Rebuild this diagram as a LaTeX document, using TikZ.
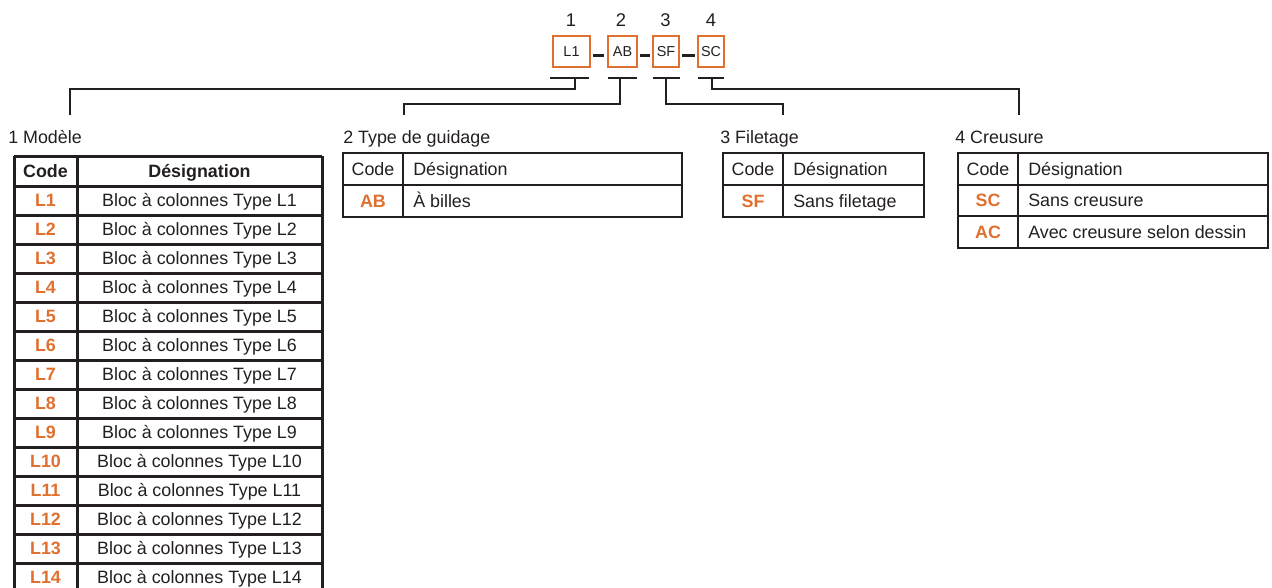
\documentclass[tikz,border=0pt]{standalone}
\usepackage{fontspec}
\setmainfont{Liberation Sans}
\definecolor{ink}{HTML}{231F20}
\definecolor{org}{HTML}{E0702F}
\begin{document}
\begin{tikzpicture}[x=0.75pt,y=-0.75pt,
  txt/.style={inner sep=0pt, text height=9.6pt, text depth=0pt, text=ink, font=\fontsize{13.4}{16}\selectfont},
  hdr/.style={txt, font=\fontsize{13.4}{16}\selectfont\bfseries},
  codet/.style={txt, text=org, font=\fontsize{13.4}{16}\selectfont\bfseries},
  ttl/.style={inner sep=0pt, text=ink, font=\fontsize{13.4}{16}\selectfont},
  num/.style={inner sep=0pt, text height=9.8pt, text depth=0pt, text=ink, font=\fontsize{13.8}{16}\selectfont},
  obox/.style={draw=org, line width=1.9pt, minimum height=23.25pt, inner sep=0pt, text height=7.7pt, text depth=0pt, text=ink, font=\fontsize{10.8}{12}\selectfont},
  dashln/.style={draw=ink, line width=2.5pt},
  barln/.style={draw=ink, line width=2pt},
  brk/.style={draw=ink, line width=1.5pt},
  tbig/.style={draw=ink, line width=2.25pt},
  tout/.style={draw=ink, line width=2pt},
  tin/.style={draw=ink, line width=1.5pt}]
\useasboundingbox (0,0) rectangle (1272,587);
\clip (0,0) rectangle (1272,587);

% ---- code boxes ----
\node[num] (n1) at (571,19.5) {1};
\node[num] (n2) at (621,19.5) {2};
\node[num] (n3) at (665.5,19.5) {3};
\node[num] (n4) at (711,19.5) {4};
\node[obox, minimum width=27.75pt] (b1) at (571.5,51.5) {L1};
\node[obox, minimum width=21.75pt] (b2) at (622.5,51.5) {AB};
\node[obox, minimum width=19.5pt] (b3) at (666,51.5) {SF};
\node[obox, minimum width=19.5pt] (b4) at (711,51.5) {SC};
\draw[dashln, shorten <=1.2pt, shorten >=2.2pt] ([yshift=-2.8pt]b1.east) -- ([yshift=-2.8pt]b2.west);
\draw[dashln, shorten <=1pt, shorten >=1pt] ([yshift=-2.8pt]b2.east) -- ([yshift=-2.8pt]b3.west);
\draw[dashln, shorten <=1.6pt, shorten >=1.6pt] ([yshift=-2.8pt]b3.east) -- ([yshift=-2.8pt]b4.west);

% ---- brackets ----
\coordinate (k1a) at (550,78); \coordinate (k1b) at (589,78); \coordinate (s1) at (575,78);
\coordinate (k2a) at (608,78); \coordinate (k2b) at (637,78); \coordinate (s2) at (620,78);
\coordinate (k3a) at (653,78); \coordinate (k3b) at (680,78); \coordinate (s3) at (666,78);
\coordinate (k4a) at (698,78); \coordinate (k4b) at (724,78); \coordinate (s4) at (712,78);
\coordinate (e1) at (70,115);
\coordinate (e2) at (404,115);
\coordinate (e3) at (783,115);
\coordinate (e4) at (1019,115);
\draw[barln] (k1a) -- (k1b);
\draw[barln] (k2a) -- (k2b);
\draw[barln] (k3a) -- (k3b);
\draw[barln] (k4a) -- (k4b);
\draw[brk] (s1) -- (575,88.5) -| (e1);
\draw[brk] (s2) -- (620,103.5) -| (e2);
\draw[brk] (s3) -- (666,103.5) -| (e3);
\draw[brk] (s4) -- (712,88.5) -| (e4);

% ---- titles ----
\node[ttl, anchor=base west] (t1) at (8,143) {1 Modèle};
\node[ttl, anchor=base west] (t2) at (343,143) {2 Type de guidage};
\node[ttl, anchor=base west] (t3) at (720,143) {3 Filetage};
\node[ttl, anchor=base west] (t4) at (955,143) {4 Creusure};

% ---- table 1 ----
\foreach \i in {0,...,14} {\draw[tbig] (14,{186+29*\i}) -- (322,{186+29*\i});}
\draw[tbig] (14,156) -- (322,156);
\draw[tbig] (14,156) -- (14,600);
\draw[tbig] (77,156) -- (77,600);
\draw[tbig] (322,156) -- (322,600);
\node[hdr] (h1c) at (45.5,171) {Code};
\node[hdr] (h1d) at (199.5,171) {Désignation};
\foreach \k in {1,...,14} {
  \node[codet] (c1-\k) at (45.5,{171.5+29*\k}) {L\k};
  \node[txt] (d1-\k) at (199.5,{171.5+29*\k}) {Bloc à colonnes Type L\k};
}

% ---- table 2 ----
\draw[tout] (343,153) rectangle (682,217);
\draw[tin] (343,185) -- (682,185);
\draw[tin] (403,153) -- (403,217);
\node[txt] (h2c) at (373,169) {Code};
\node[txt, anchor=west] (h2d) at (413,169) {Désignation};
\node[codet] (c2-1) at (373,201) {AB};
\node[txt, anchor=west] (d2-1) at (413,201) {À billes};

% ---- table 3 ----
\draw[tout] (723,153) rectangle (924,217);
\draw[tin] (723,185) -- (924,185);
\draw[tin] (783,153) -- (783,217);
\node[txt] (h3c) at (753,169) {Code};
\node[txt, anchor=west] (h3d) at (793,169) {Désignation};
\node[codet] (c3-1) at (753,201) {SF};
\node[txt, anchor=west] (d3-1) at (793,201) {Sans filetage};

% ---- table 4 ----
\draw[tout] (958,153) rectangle (1268,248);
\draw[tin] (958,184.5) -- (1268,184.5);
\draw[tin] (958,216) -- (1268,216);
\draw[tin] (1018,153) -- (1018,248);
\node[txt] (h4c) at (988,168.75) {Code};
\node[txt, anchor=west] (h4d) at (1028,168.75) {Désignation};
\node[codet] (c4-1) at (988,200.25) {SC};
\node[txt, anchor=west] (d4-1) at (1028,200.25) {Sans creusure};
\node[codet] (c4-2) at (988,232) {AC};
\node[txt, anchor=west] (d4-2) at (1028,232) {Avec creusure selon dessin};
\end{tikzpicture}
\end{document}
